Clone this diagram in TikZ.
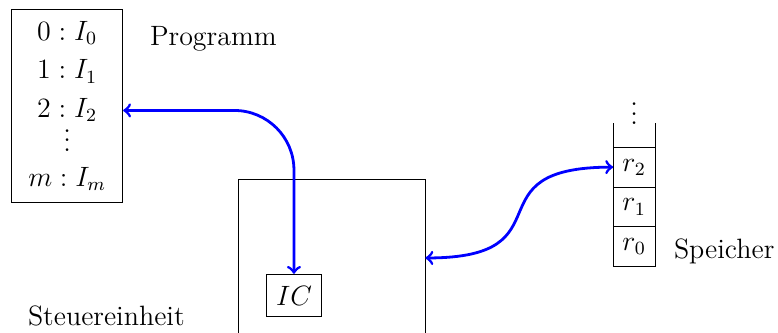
\documentclass[12pt,tikz,border=0pt]{standalone}
\usepackage{amsmath}
\usepackage{tikz}
\usetikzlibrary{positioning}

\begin{document}
\begin{tikzpicture}[>=to,
        box/.style={draw, align=center},
        cell/.style={draw, minimum width=0.63cm, minimum height=0.6cm,
                     outer sep=0pt},
        link/.style={<->, very thick, blue}]

      \clip (0,0) rectangle (11.735,-5.008);

      % Programm
      \node[box, minimum width=1.674cm, minimum height=2.917cm] (prog)
            at (1.0135,-1.5985)
            {$0:I_0$\\[2.1pt] $1:I_1$\\[2.1pt] $2:I_2$\\[0pt]
             \smash{$\vdots$}\\[0.7pt] $m:I_m$};
      \node[anchor=base west] (proglbl) at (2.115,-0.69) {Programm};
      \coordinate (p2) at ([yshift=-0.0675cm]prog.east);

      % Steuereinheit
      \node[draw, minimum width=2.82cm, minimum height=2.382cm] (cu)
            at (5,-3.891) {};
      \node[box, minimum width=0.793cm, minimum height=0.64cm] (ic)
            at (4.434,-4.457) {$IC$};
      \node[anchor=base west] (culbl) at (0.275,-4.917) {Steuereinheit};

      % Speicher
      \node[cell] (r0) at (9.565,-3.721) {$r_0$};
      \node[cell, above=0pt of r0] (r1) {$r_1$};
      \node[cell, above=0pt of r1] (r2) {$r_2$};
      \draw (r2.north west) -- ++(0,0.367);
      \draw (r2.north east) -- ++(0,0.367);
      \node[anchor=base] (dots) at (9.565,-1.878) {$\vdots$};
      \node[anchor=base west] (memlbl) at (10.019,-3.896) {Speicher};

      \draw[link, rounded corners=0.9cm] (p2) -| (ic.north);
      \draw[link] (cu.east) to[out=0, in=180, looseness=1.8] (r2.west);
    \end{tikzpicture}
\end{document}
